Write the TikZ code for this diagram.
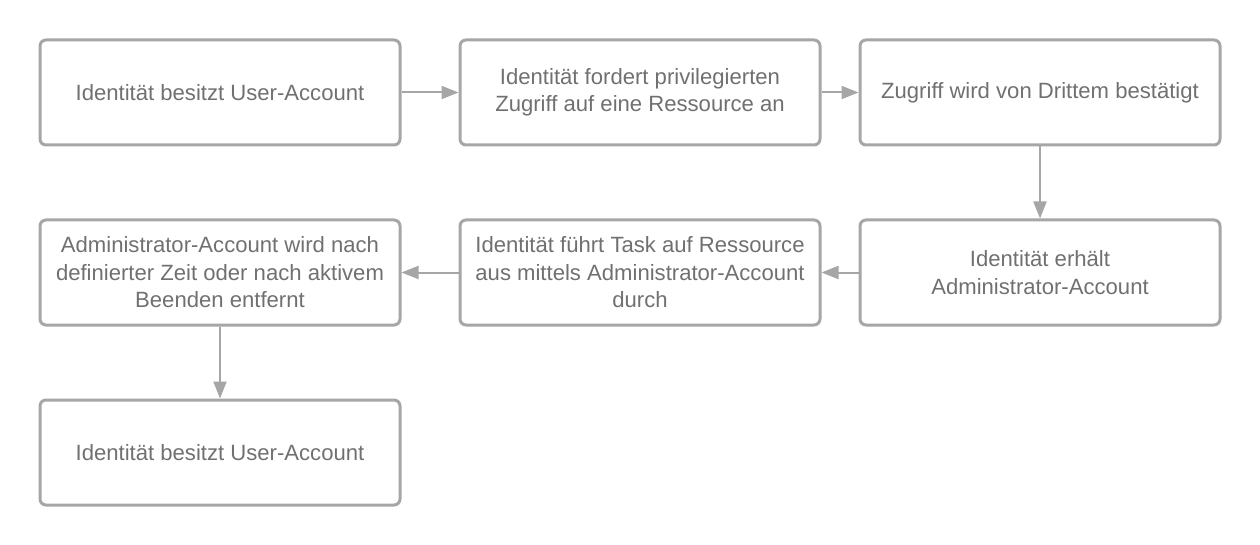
\documentclass[tikz,border=0pt]{standalone}
\usepackage{fontspec}
\setmainfont{Liberation Sans}
\usetikzlibrary{arrows.meta}
\definecolor{boxgray}{HTML}{A6A6A6}
\definecolor{txtgray}{HTML}{707070}
\begin{document}
\begin{tikzpicture}[x=1pt,y=-1pt,
  flowbox/.style={draw=boxgray, line width=3pt, rounded corners=6pt, minimum width=360pt, minimum height=105pt, inner sep=0pt, align=center, text=txtgray, font=\fontsize{22.1}{27.5}\selectfont},
  flowarrow/.style={draw=boxgray, line width=2pt, -{Triangle[length=17pt,width=13pt]}}]
\useasboundingbox (0,0) rectangle (1260,545);
\node[flowbox] (a) at (220,92.5) {Identität besitzt User-Account};
\node[flowbox] (b) at (640,92.5) {Identität fordert privilegierten\\Zugriff auf eine Ressource an};
\node[flowbox] (c) at (1040,92.5) {Zugriff wird von Drittem bestätigt};
\node[flowbox] (d) at (1040,272.5) {Identität erhält\\Administrator-Account};
\node[flowbox] (e) at (640,272.5) {Identität führt Task auf Ressource\\aus mittels Administrator-Account\\durch};
\node[flowbox] (f) at (220,272.5) {Administrator-Account wird nach\\definierter Zeit oder nach aktivem\\Beenden entfernt};
\node[flowbox] (g) at (220,452.5) {Identität besitzt User-Account};
\draw[flowarrow] (a.east) -- (b.west);
\draw[flowarrow] (b.east) -- (c.west);
\draw[flowarrow] (c.south) -- (d.north);
\draw[flowarrow] (d.west) -- (e.east);
\draw[flowarrow] (e.west) -- (f.east);
\draw[flowarrow] (f.south) -- (g.north);
\end{tikzpicture}
\end{document}
